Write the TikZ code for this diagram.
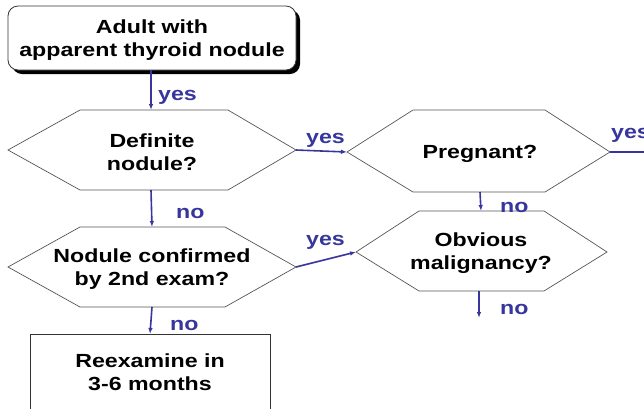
\documentclass[tikz,border=0pt]{standalone}
\usepackage{fontspec}
\setmainfont{Liberation Sans}[FakeStretch=1.22]
\usetikzlibrary{arrows.meta}
\definecolor{flowblue}{HTML}{36369C}
\definecolor{hexgray}{HTML}{555555}
\tikzset{
  txt/.style={font=\bfseries\fontsize{19}{23}\selectfont, align=center, inner sep=0pt},
  lbl/.style={font=\bfseries\fontsize{19}{22}\selectfont, text=flowblue, inner sep=0pt, anchor=west},
  hexline/.style={draw=hexgray, line width=0.7pt, fill=white},
  flow/.style={draw=flowblue, line width=1.6pt, -{Latex[length=6pt,width=4.5pt]}},
  boxline/.style={draw=black!80, line width=0.8pt, fill=white},
}
\begin{document}
\begin{tikzpicture}[x=1pt,y=-1pt]
\useasboundingbox (0,0) rectangle (644,408);
\clip (0,0) rectangle (644,408);

% start box with drop shadow
\fill[black, rounded corners=10pt] (12,10) rectangle (300,74);
\draw[boxline, rounded corners=10pt] (8,6) rectangle (296,70);
\node[txt] (start) at (152,40) {Adult with\\apparent thyroid nodule};
\coordinate (startb) at (151,70);

% decision: definite nodule
\draw[hexline] (8,150) -- (80,110) -- (228,110) -- (296,150) -- (228,190) -- (80,190) -- cycle;
\node[txt] (d1) at (152,152) {Definite\\nodule?};
\coordinate (d1t) at (151,110);
\coordinate (d1r) at (296,150);
\coordinate (d1b) at (151,190);

% decision: pregnant
\draw[hexline] (347,152) -- (413,110) -- (545,110) -- (610,152) -- (545,192) -- (413,192) -- cycle;
\node[txt] (d2) at (480,154) {Pregnant?};
\coordinate (d2l) at (347,152);
\coordinate (d2r) at (610,152);
\coordinate (d2b) at (480,192);
\coordinate (d2out) at (660,152);
\coordinate (d2down) at (481,211);

% decision: confirmed by second exam
\draw[hexline] (8,267) -- (80,227) -- (225,227) -- (296,267) -- (225,307) -- (80,307) -- cycle;
\node[txt] (d3) at (152,269) {Nodule confirmed\\by 2nd exam?};
\coordinate (d3t) at (152,227);
\coordinate (d3r) at (296,267);
\coordinate (d3b) at (152,307);

% decision: obvious malignancy
\draw[hexline] (356,252) -- (419,211) -- (544,211) -- (607,252) -- (544,291) -- (419,291) -- cycle;
\node[txt] (d4) at (481,253) {Obvious\\malignancy?};
\coordinate (d4l) at (356,252);
\coordinate (d4b) at (479,291);
\coordinate (d4out) at (479,318);

% action: reexamine
\draw[boxline] (30,334) rectangle (270,420);
\node[txt] (re) at (150,372) {Reexamine in\\3-6 months};
\coordinate (ret) at (150,334);

% connectors
\draw[flow] (startb) -- (d1t);
\node[lbl] at (158,97) {yes};
\draw[flow] (d1r) -- (d2l);
\node[lbl] at (306,140) {yes};
\draw[flow, -] (d2r) -- (d2out);
\node[lbl] at (611,135) {yes};
\draw[flow] (d2b) -- (d2down);
\node[lbl] at (500,207) {no};
\draw[flow] (d1b) -- (d3t);
\node[lbl] at (176,213) {no};
\draw[flow] (d3r) -- (d4l);
\node[lbl] at (306,242) {yes};
\draw[flow] (d3b) -- (ret);
\node[lbl] at (170,325) {no};
\draw[flow] (d4b) -- (d4out);
\node[lbl] at (500,309) {no};
\end{tikzpicture}
\end{document}
